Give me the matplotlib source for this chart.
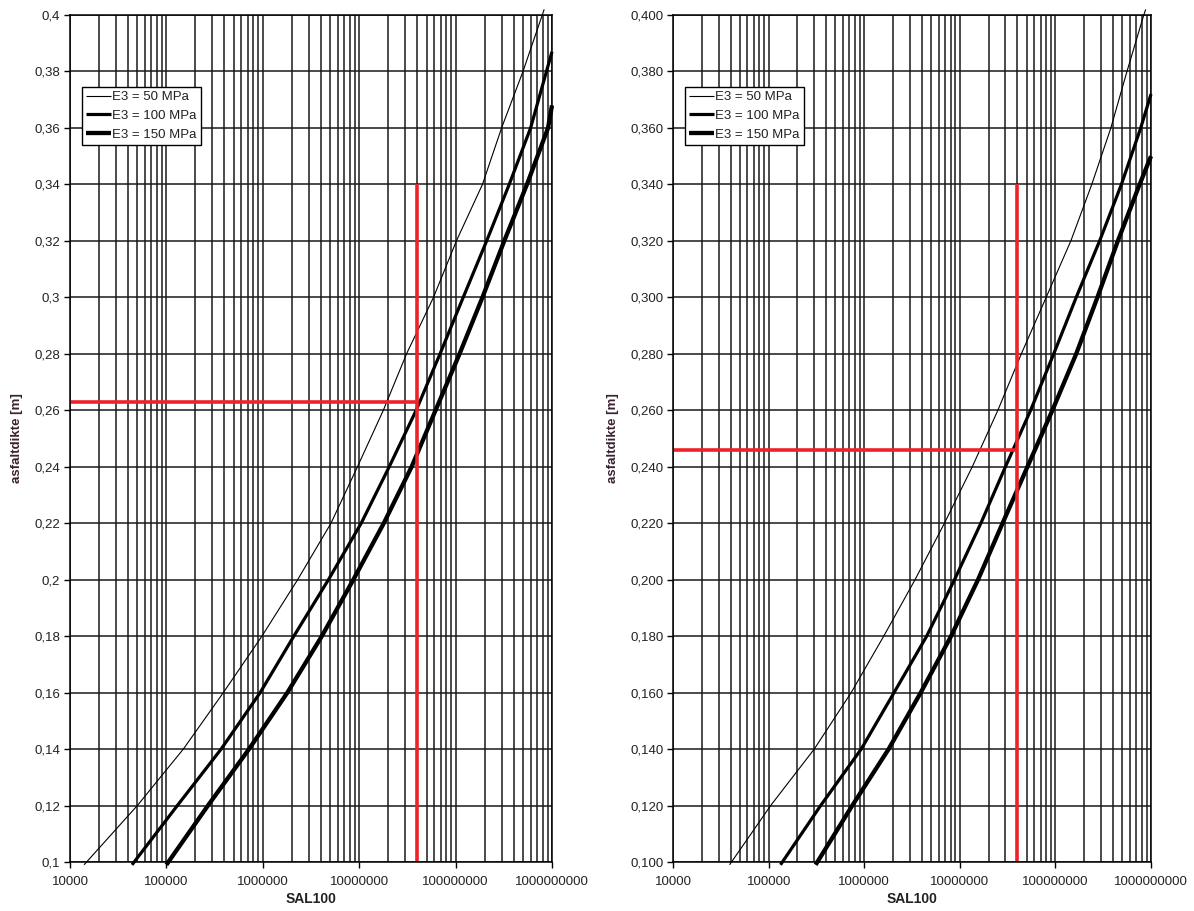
import matplotlib
matplotlib.use("Agg")
import matplotlib.pyplot as plt
from matplotlib.ticker import LogLocator, FixedLocator, FuncFormatter, NullFormatter

plt.rcParams['font.family'] = ['Liberation Sans', 'DejaVu Sans']

# ---- data (asphalt thickness [m] vs SAL100) ----
series_labels = ['E3 = 50 MPa', 'E3 = 100 MPa', 'E3 = 150 MPa']

# left chart
left_h_50 = [0.099, 0.12, 0.14, 0.16, 0.18, 0.20, 0.22, 0.24, 0.26, 0.28, 0.30, 0.32, 0.34, 0.36, 0.38, 0.402]
left_sal_50 = [1.4e4, 5.0e4, 1.5e5, 3.9e5, 9.8e5, 2.3e6, 5.1e6, 9.6e6, 1.78e7, 3.1e7, 5.9e7, 1.02e8, 1.9e8, 3.0e8, 5.0e8, 8.3e8]
left_h_100 = [0.099, 0.12, 0.14, 0.16, 0.18, 0.20, 0.22, 0.24, 0.26, 0.28, 0.30, 0.32, 0.34, 0.36, 0.387]
left_sal_100 = [4.4e4, 1.3e5, 3.7e5, 9.4e5, 2.1e6, 4.8e6, 1.05e7, 2.05e7, 3.9e7, 6.9e7, 1.2e8, 2.1e8, 3.6e8, 6.0e8, 1.0e9]
left_h_150 = [0.099, 0.12, 0.14, 0.16, 0.18, 0.20, 0.22, 0.24, 0.26, 0.28, 0.30, 0.32, 0.34, 0.36, 0.368]
left_sal_150 = [1.0e5, 2.7e5, 7.2e5, 1.8e6, 4.1e6, 8.7e6, 1.8e7, 3.5e7, 6.2e7, 1.1e8, 1.9e8, 3.2e8, 5.5e8, 9.1e8, 1.0e9]

# right chart
right_h_50 = [0.099, 0.12, 0.14, 0.16, 0.18, 0.20, 0.22, 0.24, 0.26, 0.28, 0.30, 0.32, 0.34, 0.36, 0.38, 0.40, 0.402]
right_sal_50 = [3.9e4, 1.05e5, 3.0e5, 7.3e5, 1.6e6, 3.4e6, 6.9e6, 1.35e7, 2.5e7, 4.4e7, 8.0e7, 1.45e8, 2.4e8, 3.8e8, 5.6e8, 8.4e8, 8.8e8]
right_h_100 = [0.099, 0.12, 0.14, 0.16, 0.18, 0.20, 0.22, 0.24, 0.26, 0.28, 0.30, 0.32, 0.34, 0.36, 0.372]
right_sal_100 = [1.33e5, 3.5e5, 9.3e5, 2.05e6, 4.5e6, 8.8e6, 1.66e7, 3.0e7, 5.5e7, 9.6e7, 1.65e8, 2.9e8, 4.9e8, 7.8e8, 1.0e9]
right_h_150 = [0.099, 0.12, 0.14, 0.16, 0.18, 0.20, 0.22, 0.24, 0.26, 0.28, 0.30, 0.32, 0.34, 0.35]
right_sal_150 = [3.1e5, 7.5e5, 1.8e6, 3.9e6, 8.1e6, 1.55e7, 2.8e7, 5.1e7, 9.3e7, 1.65e8, 2.75e8, 4.5e8, 7.6e8, 1.0e9]

# red reading lines: (SAL100, thickness, top of vertical line)
left_read = (4.0e7, 0.263, 0.34)
right_read = (4.0e7, 0.246, 0.34)

y_ticks = [0.10, 0.12, 0.14, 0.16, 0.18, 0.20, 0.22, 0.24, 0.26, 0.28, 0.30, 0.32, 0.34, 0.36, 0.38, 0.40]
x_ticks = [1e4, 1e5, 1e6, 1e7, 1e8, 1e9]

widths = [0.8, 2.3, 3.1]
RED = '#ee2227'
TXT = '#222222'
LABEL_COL = '#3a2230'


def draw_panel(ax, curves, read, yfmt):
    ax.set_xscale('log')
    ax.set_xlim(1e4, 1e9)
    ax.set_ylim(0.1, 0.4)

    # grid: every decade sub-division vertically, every 0.02 horizontally
    minor_x = [m * 10 ** e for e in range(4, 9) for m in range(2, 10)]
    for xv in minor_x + x_ticks:
        ax.axvline(xv, color='#1a1a1a', lw=1.1, zorder=1)
    for yv in y_ticks:
        ax.axhline(yv, color='#1a1a1a', lw=1.1, zorder=1)

    handles = []
    for (sal, h), lw, lab in zip(curves, widths, series_labels):
        ln, = ax.plot(sal, h, color='black', lw=lw, label=lab, zorder=3,
                      clip_on=False, solid_capstyle='butt', solid_joinstyle='round')
        handles.append(ln)

    sx, sy, top = read
    ax.plot([1e4, sx], [sy, sy], color=RED, lw=2.6, zorder=4, solid_capstyle='butt')
    ax.plot([sx, sx], [0.1, top], color=RED, lw=2.6, zorder=4, solid_capstyle='butt')

    ax.xaxis.set_major_locator(FixedLocator(x_ticks))
    ax.xaxis.set_minor_locator(LogLocator(base=10, subs=[]))
    ax.xaxis.set_minor_formatter(NullFormatter())
    ax.xaxis.set_major_formatter(FuncFormatter(lambda v, p: '%d' % round(v)))
    ax.yaxis.set_major_locator(FixedLocator(y_ticks))
    ax.yaxis.set_major_formatter(FuncFormatter(yfmt))
    ax.tick_params(axis='both', direction='out', length=4, width=1.0,
                   labelsize=9.5, colors='black', labelcolor=TXT, pad=3)
    ax.tick_params(axis='x', pad=6)
    for sp in ax.spines.values():
        sp.set_linewidth(1.1)
        sp.set_color('black')
        sp.set_zorder(5)

    ax.set_xlabel('SAL100', fontsize=10, fontweight='bold', color=TXT, labelpad=3)
    ax.set_ylabel('asfaltdikte [m]', fontsize=9.5, fontweight='bold', color=LABEL_COL, labelpad=8)

    leg = ax.legend(handles=handles, loc='upper left', bbox_to_anchor=(0.025, 0.915),
                    fontsize=9.5, frameon=True, fancybox=False, framealpha=1,
                    edgecolor='black', borderpad=0.3, labelspacing=0.5,
                    handlelength=1.9, handletextpad=0.1, borderaxespad=0)
    leg.get_frame().set_linewidth(1.0)
    leg.set_zorder(6)
    for t in leg.get_texts():
        t.set_color(TXT)


def fmt_left(v, p):
    s = ('%.2f' % v).rstrip('0').rstrip('.')
    return s.replace('.', ',')


def fmt_right(v, p):
    return ('%.3f' % v).replace('.', ',')


fig = plt.figure(figsize=(11.94, 9.11), dpi=100)
ax_l = fig.add_axes([0.0586, 0.0538, 0.4037, 0.9297])
ax_r = fig.add_axes([0.5637, 0.0538, 0.4003, 0.9297])

draw_panel(ax_l, [(left_sal_50, left_h_50), (left_sal_100, left_h_100), (left_sal_150, left_h_150)],
           left_read, fmt_left)
draw_panel(ax_r, [(right_sal_50, right_h_50), (right_sal_100, right_h_100), (right_sal_150, right_h_150)],
           right_read, fmt_right)

fig.savefig('out.png', dpi=100)
